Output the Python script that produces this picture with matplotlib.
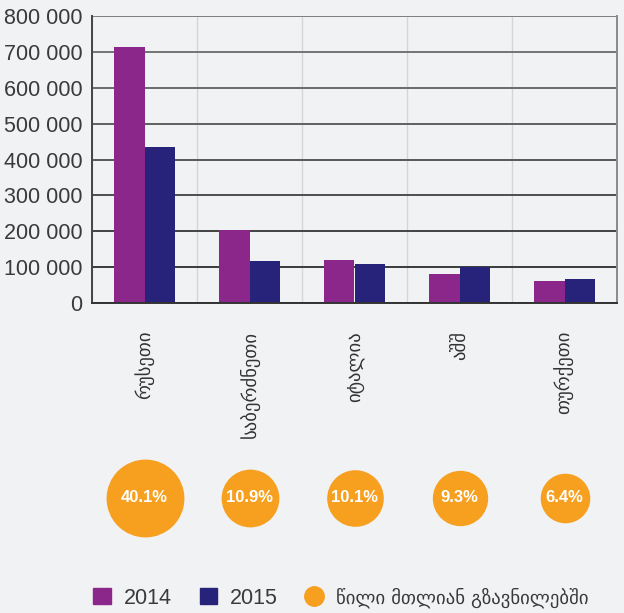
import numpy as np
import matplotlib
matplotlib.use("Agg")
import matplotlib.pyplot as plt
from matplotlib.ticker import FuncFormatter, MultipleLocator
from matplotlib.patches import Patch
from matplotlib.lines import Line2D

plt.rcParams['font.family'] = ['Liberation Sans', 'DejaVu Sans']

countries = ["რუსეთი", "საბერძნეთი", "იტალია", "აშშ", "თურქეთი"]
values_2014 = [713000, 204000, 120000, 81000, 62000]
values_2015 = [435000, 116000, 108000, 100000, 68000]
share = [40.1, 10.9, 10.1, 9.3, 6.4]
share_labels = ["40.1%", "10.9%", "10.1%", "9.3%", "6.4%"]
legend_share = "წილი მთლიან გზავნილებში"

c2014 = "#8b278b"
c2015 = "#27237a"
corange = "#f79f1f"
bg = "#f1f2f4"

W, H = 624, 613
fig = plt.figure(figsize=(W / 100, H / 100), dpi=100, facecolor=bg)

# main bar axes
ax = fig.add_axes([92 / W, (H - 303) / H, 525 / W, 287 / H], facecolor=bg)
x = np.arange(len(countries))
bw = 0.29
ax.bar(x - bw / 2, values_2014, bw, color=c2014, zorder=3)
ax.bar(x + bw / 2, values_2015, bw, color=c2015, zorder=3)

ax.set_xlim(-0.5, len(countries) - 0.5)
ax.set_ylim(0, 800000)
ax.yaxis.set_major_locator(MultipleLocator(100000))
ax.yaxis.set_major_formatter(FuncFormatter(lambda v, p: f"{int(v):,}".replace(",", " ")))
ax.tick_params(axis='y', length=0, pad=7, labelsize=15.5, labelcolor="#3a3a3a")

# category separators
ax.set_xticks(np.arange(-0.5, len(countries), 1), minor=True)
ax.set_xticks(x)
ax.set_xticklabels(countries, rotation=90, va='top', ha='center',
                   fontsize=13.5, color="#333333", family=['DejaVu Sans'])
ax.tick_params(axis='x', which='both', length=0, pad=20)
ax.grid(axis='x', which='minor', color="#d4d5d8", lw=1, zorder=1)
ax.grid(axis='y', which='major', lw=1.4, zorder=2)
ygl = ax.get_ygridlines()
for i, gl in enumerate(ygl):
    t = i / max(len(ygl) - 1, 1)
    g = 0.15 + 0.38 * t
    gl.set_color((g, g, g))

ax.spines["top"].set_visible(False)
ax.spines["left"].set_color("#444444")
ax.spines["bottom"].set_color("#333333")
ax.spines["right"].set_color("#8a8a8a")
for s in ["left", "bottom", "right"]:
    ax.spines[s].set_linewidth(1.4)
    ax.spines[s].set_zorder(4)

# share bubbles
bx = fig.add_axes([92 / W, 70 / H, 525 / W, 90 / H])
bx.set_xlim(-0.5, len(countries) - 0.5)
bx.set_ylim(0, 1)
bx.axis('off')
for i, (p, lab) in enumerate(zip(share, share_labels)):
    d_px = 21 + 15.4 * np.log(p)
    bx.plot(i, 0.5, 'o', ms=d_px * 0.72, color=corange, mec='none')
    bx.text(i, 0.5, lab, ha='center', va='center', color='white',
            fontsize=12, fontweight='bold')

# legend
handles = [
    Patch(color=c2014, label="2014"),
    Patch(color=c2015, label="2015"),
    Line2D([], [], marker='o', ls='none', ms=14, color=corange, label=legend_share),
]
leg = fig.legend(handles=handles, loc='lower left', bbox_to_anchor=(74 / W, -15 / H),
                 ncol=3, frameon=False, fontsize=15.5, handlelength=0.8,
                 handleheight=0.8, handletextpad=0.6, columnspacing=1.3)
for t in leg.get_texts():
    t.set_color("#3a3a3a")
leg.get_texts()[2].set_fontsize(13.5)
leg.get_texts()[2].set_family(['DejaVu Sans'])

fig.savefig("out.png", dpi=100, facecolor=bg)
